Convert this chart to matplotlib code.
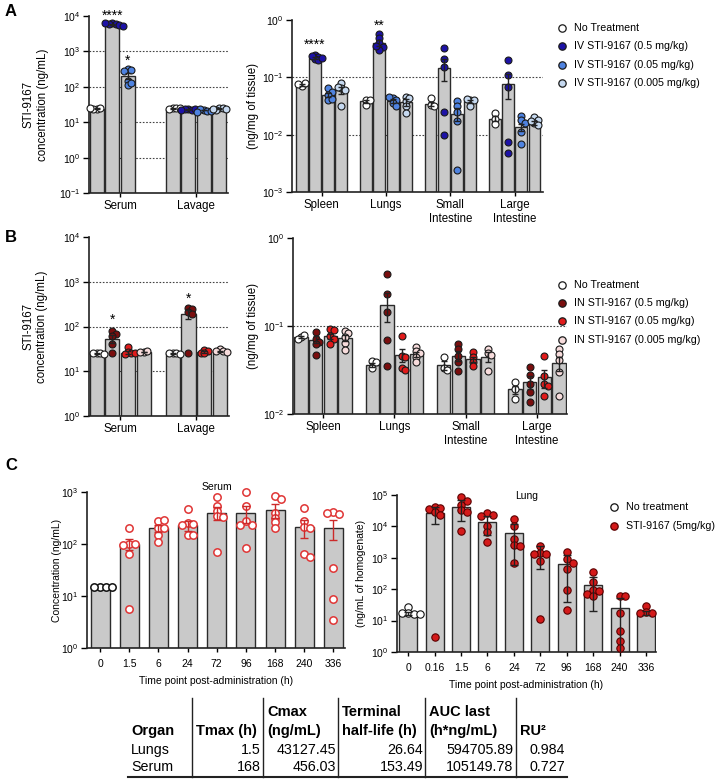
import numpy as np
import matplotlib
matplotlib.use("Agg")
import matplotlib.pyplot as plt
from matplotlib.ticker import LogLocator, NullLocator, LogFormatterSciNotation

plt.rcParams['font.family'] = ['Liberation Sans', 'DejaVu Sans']
plt.rcParams['mathtext.fontset'] = 'custom'
plt.rcParams['mathtext.rm'] = 'Liberation Sans'
plt.rcParams['axes.unicode_minus'] = True

# ---------------- data ----------------
# panel A left: [group][series] -> No Treatment, 0.5, 0.05, 0.005 mg/kg
a_left_groups = ["Serum", "Lavage"]
a_left_mean = [[24, 5800, 200, None], [24, 23, 22, 24]]
a_left_sem = [[0.4, 230, 38, 0], [0.4, 0.5, 0.5, 0.6]]
a_left_pts = [[[24, 25, 24, 25], [6500, 6100, 5800, 5500, 6200, 5300],
               [310, 290, 150, 112, 125, 275], []],
              [[25, 25, 24, 25], [23, 22, 24, 23, 22], [22, 21, 23, 21, 20],
               [25, 26, 22, 23, 24]]]

a_right_groups = ["Spleen", "Lungs", "Small\nIntestine", "Large\nIntestine"]
a_right_mean = [[0.075, 0.22, 0.05, 0.06], [0.038, 0.40, 0.039, 0.037],
                [0.034, 0.145, 0.023, 0.038], [0.019, 0.078, 0.0135, 0.016]]
a_right_sem = [[0.003, 0.01, 0.004, 0.008], [0.002, 0.045, 0.003, 0.005],
               [0.003, 0.06, 0.006, 0.002], [0.002, 0.036, 0.002, 0.001]]
a_right_pts = [[[0.072, 0.08, 0.077], [0.25, 0.23, 0.21, 0.24, 0.2, 0.22],
                [0.064, 0.056, 0.049, 0.041, 0.042], [0.08, 0.065, 0.06, 0.032, 0.067]],
               [[0.041, 0.033, 0.04], [0.58, 0.48, 0.39, 0.34, 0.30, 0.35],
                [0.043, 0.04, 0.035, 0.032, 0.045], [0.046, 0.038, 0.031, 0.024, 0.043]],
               [[0.043, 0.033, 0.032], [0.32, 0.21, 0.15, 0.025, 0.0098],
                [0.038, 0.032, 0.025, 0.0175, 0.0024], [0.041, 0.04, 0.031, 0.042]],
               [[0.024, 0.019, 0.0155], [0.2, 0.11, 0.067, 0.0075, 0.0047],
                [0.021, 0.018, 0.016, 0.011, 0.007], [0.02, 0.018, 0.016, 0.015, 0.017]]]

# panel B
b_left_mean = [[25, 53, 26, 27], [25, 190, 27, 28]]
b_left_sem = [[0.5, 10, 2, 0.5], [0.5, 45, 1.5, 1]]
b_left_pts = [[[25, 25, 26, 24], [78, 69, 62, 41, 25], [34, 27, 25, 24, 25], [27, 28, 27]],
              [[25, 26, 25, 24], [265, 240, 215, 195, 25], [30, 28, 26, 25], [31, 28, 29, 27]]]

b_right_mean = [[0.075, 0.07, 0.077, 0.073], [0.036, 0.175, 0.047, 0.048],
                [0.036, 0.046, 0.042, 0.045], [0.019, 0.023, 0.026, 0.038]]
b_right_sem = [[0.002, 0.006, 0.005, 0.006], [0.002, 0.063, 0.008, 0.003],
               [0.004, 0.006, 0.003, 0.006], [0.002, 0.004, 0.006, 0.007]]
b_right_pts = [[[0.075, 0.078, 0.072], [0.085, 0.071, 0.066, 0.063, 0.047],
                [0.093, 0.09, 0.077, 0.072, 0.063], [0.088, 0.084, 0.075, 0.064, 0.054]],
               [[0.04, 0.033, 0.039], [0.385, 0.23, 0.145, 0.07, 0.035],
                [0.077, 0.046, 0.045, 0.033, 0.032], [0.057, 0.052, 0.049, 0.045, 0.039]],
               [[0.044, 0.033, 0.032], [0.062, 0.055, 0.046, 0.039, 0.031],
                [0.05, 0.044, 0.039, 0.035], [0.055, 0.049, 0.047, 0.031]],
               [[0.023, 0.019, 0.0148], [0.034, 0.028, 0.022, 0.0177, 0.0136],
                [0.046, 0.027, 0.022, 0.021, 0.016], [0.055, 0.048, 0.041, 0.03, 0.016]]]

# panel C
c_serum_time = ["0", "1.5", "6", "24", "72", "96", "168", "240", "336"]
c_serum_mean = [15, 100, 200, 230, 400, 390, 450, 210, 205]
c_serum_sem = [0.3, 25, 28, 50, 110, 140, 130, 80, 88]
c_serum_pts = [[15, 15, 15, 15], [200, 100, 98, 95, 63, 5.6], [275, 290, 205, 200, 147, 108],
               [480, 255, 245, 230, 150, 150], [800, 530, 430, 340, 330, 71],
               [1000, 530, 275, 230, 230, 82], [850, 720, 400, 320, 260, 205],
               [500, 280, 210, 205, 63, 57], [410, 380, 400, 35, 8.8, 3.5]]

c_lung_time = ["0", "0.16", "1.5", "6", "24", "72", "96", "168", "240", "336"]
c_lung_mean = [17, 26500, 43000, 13500, 6100, 1400, 630, 135, 25, 18]
c_lung_sem = [2, 14500, 28000, 8000, 5500, 950, 590, 115, 28, 2.5]
c_lung_pts = [[28, 17, 16, 17, 16], [41000, 39000, 37000, 28000, 23000, 3],
              [85000, 65000, 48000, 33000, 28000, 7400], [27000, 23000, 21000, 10000, 6600, 3200],
              [17500, 10000, 4000, 2600, 2300, 700], [2400, 1450, 1350, 1300, 800, 11],
              [1580, 900, 700, 430, 93, 21], [360, 170, 93, 85, 70, 63],
              [60, 63, 17, 4.6, 2.3, 1.3], [30, 19, 18, 18]]

iv_labels = ["No Treatment", "IV STI-9167 (0.5 mg/kg)", "IV STI-9167 (0.05 mg/kg)",
             "IV STI-9167 (0.005 mg/kg)"]
in_labels = ["No Treatment", "IN STI-9167 (0.5 mg/kg)", "IN STI-9167 (0.05 mg/kg)",
             "IN STI-9167 (0.005 mg/kg)"]
iv_colors = ['#ffffff', '#1d12a6', '#4f83e0', '#c6d9f0']
in_colors = ['#ffffff', '#7a0e0e', '#e01b1b', '#f7dcdc']

table_head1 = ["", "", "Cmax", "Terminal", "AUC last", ""]
table_head2 = ["Organ", "Tmax (h)", "(ng/mL)", "half-life (h)", "(h*ng/mL)", "RU²"]
table_rows = [["Lungs", "1.5", "43127.45", "26.64", "594705.89", "0.984"],
              ["Serum", "168", "456.03", "153.49", "105149.78", "0.727"]]

# ---------------- layout ----------------
W, H = 726, 780
fig = plt.figure(figsize=(W / 100, H / 100), dpi=100)

bar_face = '#c9c9c9'
bar_edge = '#2b2b2b'
dot_edge = '#1a1a1a'
slot = 0.205
bw = 0.185


def px_axes(l, t, r, b):
    return fig.add_axes([l / W, 1 - b / H, (r - l) / W, (b - t) / H])


def log_axis(ax, lo, hi, grid):
    ax.set_yscale('log')
    ax.set_ylim(lo, hi)
    ax.yaxis.set_major_locator(LogLocator(base=10, subs=(1.0,), numticks=12))
    ax.yaxis.set_minor_locator(NullLocator())
    ax.yaxis.set_major_formatter(LogFormatterSciNotation())
    for g in grid:
        ax.axhline(g, color='#444444', lw=0.8, ls=(0, (1.5, 1.5)), zorder=1)
    for s in ('top', 'right'):
        ax.spines[s].set_visible(False)
    for s in ('left', 'bottom'):
        ax.spines[s].set_linewidth(1.2)
        ax.spines[s].set_color('#222222')
    ax.tick_params(axis='y', length=4, width=1, labelsize=7.5, pad=2)
    ax.tick_params(axis='x', length=3, width=1, labelsize=8.3, pad=2)


def swarm(ax, xc, vals, ms, md=0.5, step=0.5, kmax=3):
    # nudge overlapping points sideways (worked out in display pixels)
    d = ms * 100 / 72
    x0 = ax.transData.transform((xc, 1))[0]
    placed = []
    ks = [0]
    for k in range(1, kmax + 1):
        ks += [k, -k]
    for v in vals:
        y = ax.transData.transform((xc, v))[1]
        best, best_gap = x0, -1
        for k in ks:
            x = x0 + k * d * step
            gap = min([np.hypot(x - px, y - py) for px, py in placed] + [1e9])
            if gap >= d * md:
                best = x
                break
            if gap > best_gap:
                best, best_gap = x, gap
        placed.append((best, y))
    inv = ax.transData.inverted()
    return inv.transform(np.array(placed)) if placed else np.empty((0, 2))


def grouped(ax, groups, means, sems, pts, colors, xlim):
    ax.set_xlim(*xlim)
    for gi in range(len(groups)):
        for si in range(4):
            m = means[gi][si]
            if m is None:
                continue
            x = gi + (si - 1.5) * slot
            ax.bar(x, m, width=bw, color=bar_face, edgecolor=bar_edge, lw=1, zorder=2)
            xy = swarm(ax, x, pts[gi][si], 5)
            ax.plot(xy[:, 0], xy[:, 1], 'o', ms=5, mfc=colors[si], mec=dot_edge,
                    mew=0.8, zorder=3, clip_on=False)
            ax.errorbar(x, m, yerr=sems[gi][si], fmt='none', ecolor='#222222',
                        elinewidth=1, capsize=2.2, capthick=1, zorder=4)
    ax.set_xticks(range(len(groups)))
    ax.set_xticklabels(groups)


# A left
ax = px_axes(89, 16, 228, 193)
log_axis(ax, 1e-1, 1e4, [1e3, 1e2, 1e1, 1e0])
grouped(ax, a_left_groups, a_left_mean, a_left_sem, a_left_pts, iv_colors, (-0.41, 1.42))
ax.set_ylabel("STI-9167\nconcentration (ng/mL)", fontsize=8.3)
ax.yaxis.set_label_coords(-0.29, 0.5)
ax.text(0 - 0.5 * slot, 1.0e4, "****", ha='center', va='center', fontsize=10, clip_on=False)
ax.text(0 + 0.5 * slot, 540, "*", ha='center', va='center', fontsize=10)

# A right
ax = px_axes(292, 20, 543, 192)
log_axis(ax, 1e-3, 1e0, [1e-1, 1e-2])
grouped(ax, a_right_groups, a_right_mean, a_right_sem, a_right_pts, iv_colors, (-0.46, 3.44))
ax.set_ylabel("(ng/mg of tissue)", fontsize=8.3)
ax.yaxis.set_label_coords(-0.131, 0.5)
ax.text(0 - 0.5 * slot, 0.37, "****", ha='center', va='center', fontsize=10)
ax.text(1 - 0.5 * slot, 0.79, "**", ha='center', va='center', fontsize=10)

# B left
ax = px_axes(89, 237, 229, 416)
log_axis(ax, 1e0, 1e4, [1e3, 1e2, 1e1])
grouped(ax, a_left_groups, b_left_mean, b_left_sem, b_left_pts, in_colors, (-0.41, 1.43))
ax.set_ylabel("STI-9167\nconcentration (ng/mL)", fontsize=8.3)
ax.yaxis.set_label_coords(-0.29, 0.5)
ax.text(0 - 0.5 * slot, 138, "*", ha='center', va='center', fontsize=10)
ax.text(1 - 0.5 * slot, 410, "*", ha='center', va='center', fontsize=10)

# B right
ax = px_axes(293, 238, 567, 414)
log_axis(ax, 1e-2, 1e0, [1e-1])
grouped(ax, a_right_groups, b_right_mean, b_right_sem, b_right_pts, in_colors, (-0.42, 3.42))
ax.set_ylabel("(ng/mg of tissue)", fontsize=8.3)
ax.yaxis.set_label_coords(-0.124, 0.5)

# C left - serum
ax = px_axes(87, 492, 345, 648)
log_axis(ax, 1e0, 1e3, [])
ax.set_xlim(-0.45, 8.4)
xs = np.arange(len(c_serum_time))
ax.bar(xs, c_serum_mean, width=0.65, color=bar_face, edgecolor=bar_edge, lw=1, zorder=2)
for i in xs:
    xy = swarm(ax, i, c_serum_pts[i], 5.3, md=0.6, step=0.8)
    ec = '#111111' if i == 0 else '#e03535'
    ax.plot(xy[:, 0], xy[:, 1], 'o', ms=5.3, mfc='white', mec=ec, mew=1.1, zorder=3, clip_on=False)
ax.errorbar(xs[1:], c_serum_mean[1:], yerr=c_serum_sem[1:], fmt='none', ecolor='#cc2a2a',
            elinewidth=1, capsize=3, capthick=1, zorder=4)
ax.set_xticks(xs)
ax.set_xticklabels(c_serum_time, fontsize=7.5)
ax.tick_params(axis='x', pad=5)
ax.set_ylabel("Concentration (ng/mL)", fontsize=7.5)
ax.yaxis.set_label_coords(-0.097, 0.5)
ax.set_xlabel("Time point post-administration (h)", fontsize=7.5)
ax.xaxis.set_label_coords(0.5, -0.18)

# C right - lung
ax = px_axes(397, 495, 656, 652)
log_axis(ax, 1e0, 1e5, [])
ax.set_xlim(-0.42, 9.38)
xs = np.arange(len(c_lung_time))
ax.bar(xs, c_lung_mean, width=0.68, color=bar_face, edgecolor=bar_edge, lw=1, zorder=2)
for i in xs:
    xy = swarm(ax, i, c_lung_pts[i], 5.3, md=0.6, step=0.8)
    fc = 'white' if i == 0 else '#d41a1a'
    ec = '#111111' if i == 0 else '#5a0000'
    ax.plot(xy[:, 0], xy[:, 1], 'o', ms=5.3, mfc=fc, mec=ec, mew=0.8, zorder=3, clip_on=False)
ax.errorbar(xs, c_lung_mean, yerr=c_lung_sem, fmt='none', ecolor='#222222',
            elinewidth=1, capsize=3, capthick=1, zorder=4)
ax.set_xticks(xs)
ax.set_xticklabels(c_lung_time, fontsize=7.5)
ax.tick_params(axis='x', pad=5)
ax.set_ylabel("(ng/mL of homogenate)", fontsize=7.5)
ax.yaxis.set_label_coords(-0.12, 0.5)
ax.set_xlabel("Time point post-administration (h)", fontsize=7.5)
ax.xaxis.set_label_coords(0.5, -0.18)

# ---------------- overlay: letters, legends, titles, table ----------------
ov = fig.add_axes([0, 0, 1, 1])
ov.set_xlim(0, W)
ov.set_ylim(H, 0)
ov.axis('off')
ov.patch.set_visible(False)

for lab, y in [("A", 12), ("B", 237), ("C", 466)]:
    ov.text(5, y, lab, fontsize=12, fontweight='bold', ha='left', va='center')


def legend(x, ys, labels, faces, edges, mew=0.9):
    for y, lab, fc, ec in zip(ys, labels, faces, edges):
        ov.plot(x, y, 'o', ms=5.3, mfc=fc, mec=ec, mew=mew)
        ov.text(x + 12, y, lab, fontsize=7.7, ha='left', va='center')


legend(562, [28, 46, 65, 83], iv_labels, iv_colors, [dot_edge] * 4)
legend(562, [285, 303, 321, 340], in_labels, in_colors, [dot_edge] * 4)
legend(614, [507, 526], ["No treatment", "STI-9167 (5mg/kg)"], ['white', '#d41a1a'],
       ['#111111', '#5a0000'])

ov.text(217, 487, "Serum", fontsize=7.5, ha='center', va='center')
ov.text(527, 496, "Lung", fontsize=7.5, ha='center', va='center')

# table
col_left = [131, 196, 267, 342, 429, 520]
col_right = [None, 261, 336, 423, 513, 565]
for xv in [192, 263, 338, 425, 516]:
    ov.plot([xv, xv], [698, 777], color='#222222', lw=1)
ov.plot([128, 567], [777, 777], color='#222222', lw=1.5)
for j in range(6):
    ov.text(col_left[j], 712, table_head1[j], fontsize=10.5, fontweight='bold', ha='left', va='center')
    ov.text(col_left[j], 731, table_head2[j], fontsize=10.5, fontweight='bold', ha='left', va='center')
for r, y in zip(table_rows, [750, 767]):
    ov.text(col_left[0], y, r[0], fontsize=10.3, ha='left', va='center')
    for j in range(1, 6):
        ov.text(col_right[j], y, r[j], fontsize=10.3, ha='right', va='center')

fig.savefig("out.png", dpi=100)
